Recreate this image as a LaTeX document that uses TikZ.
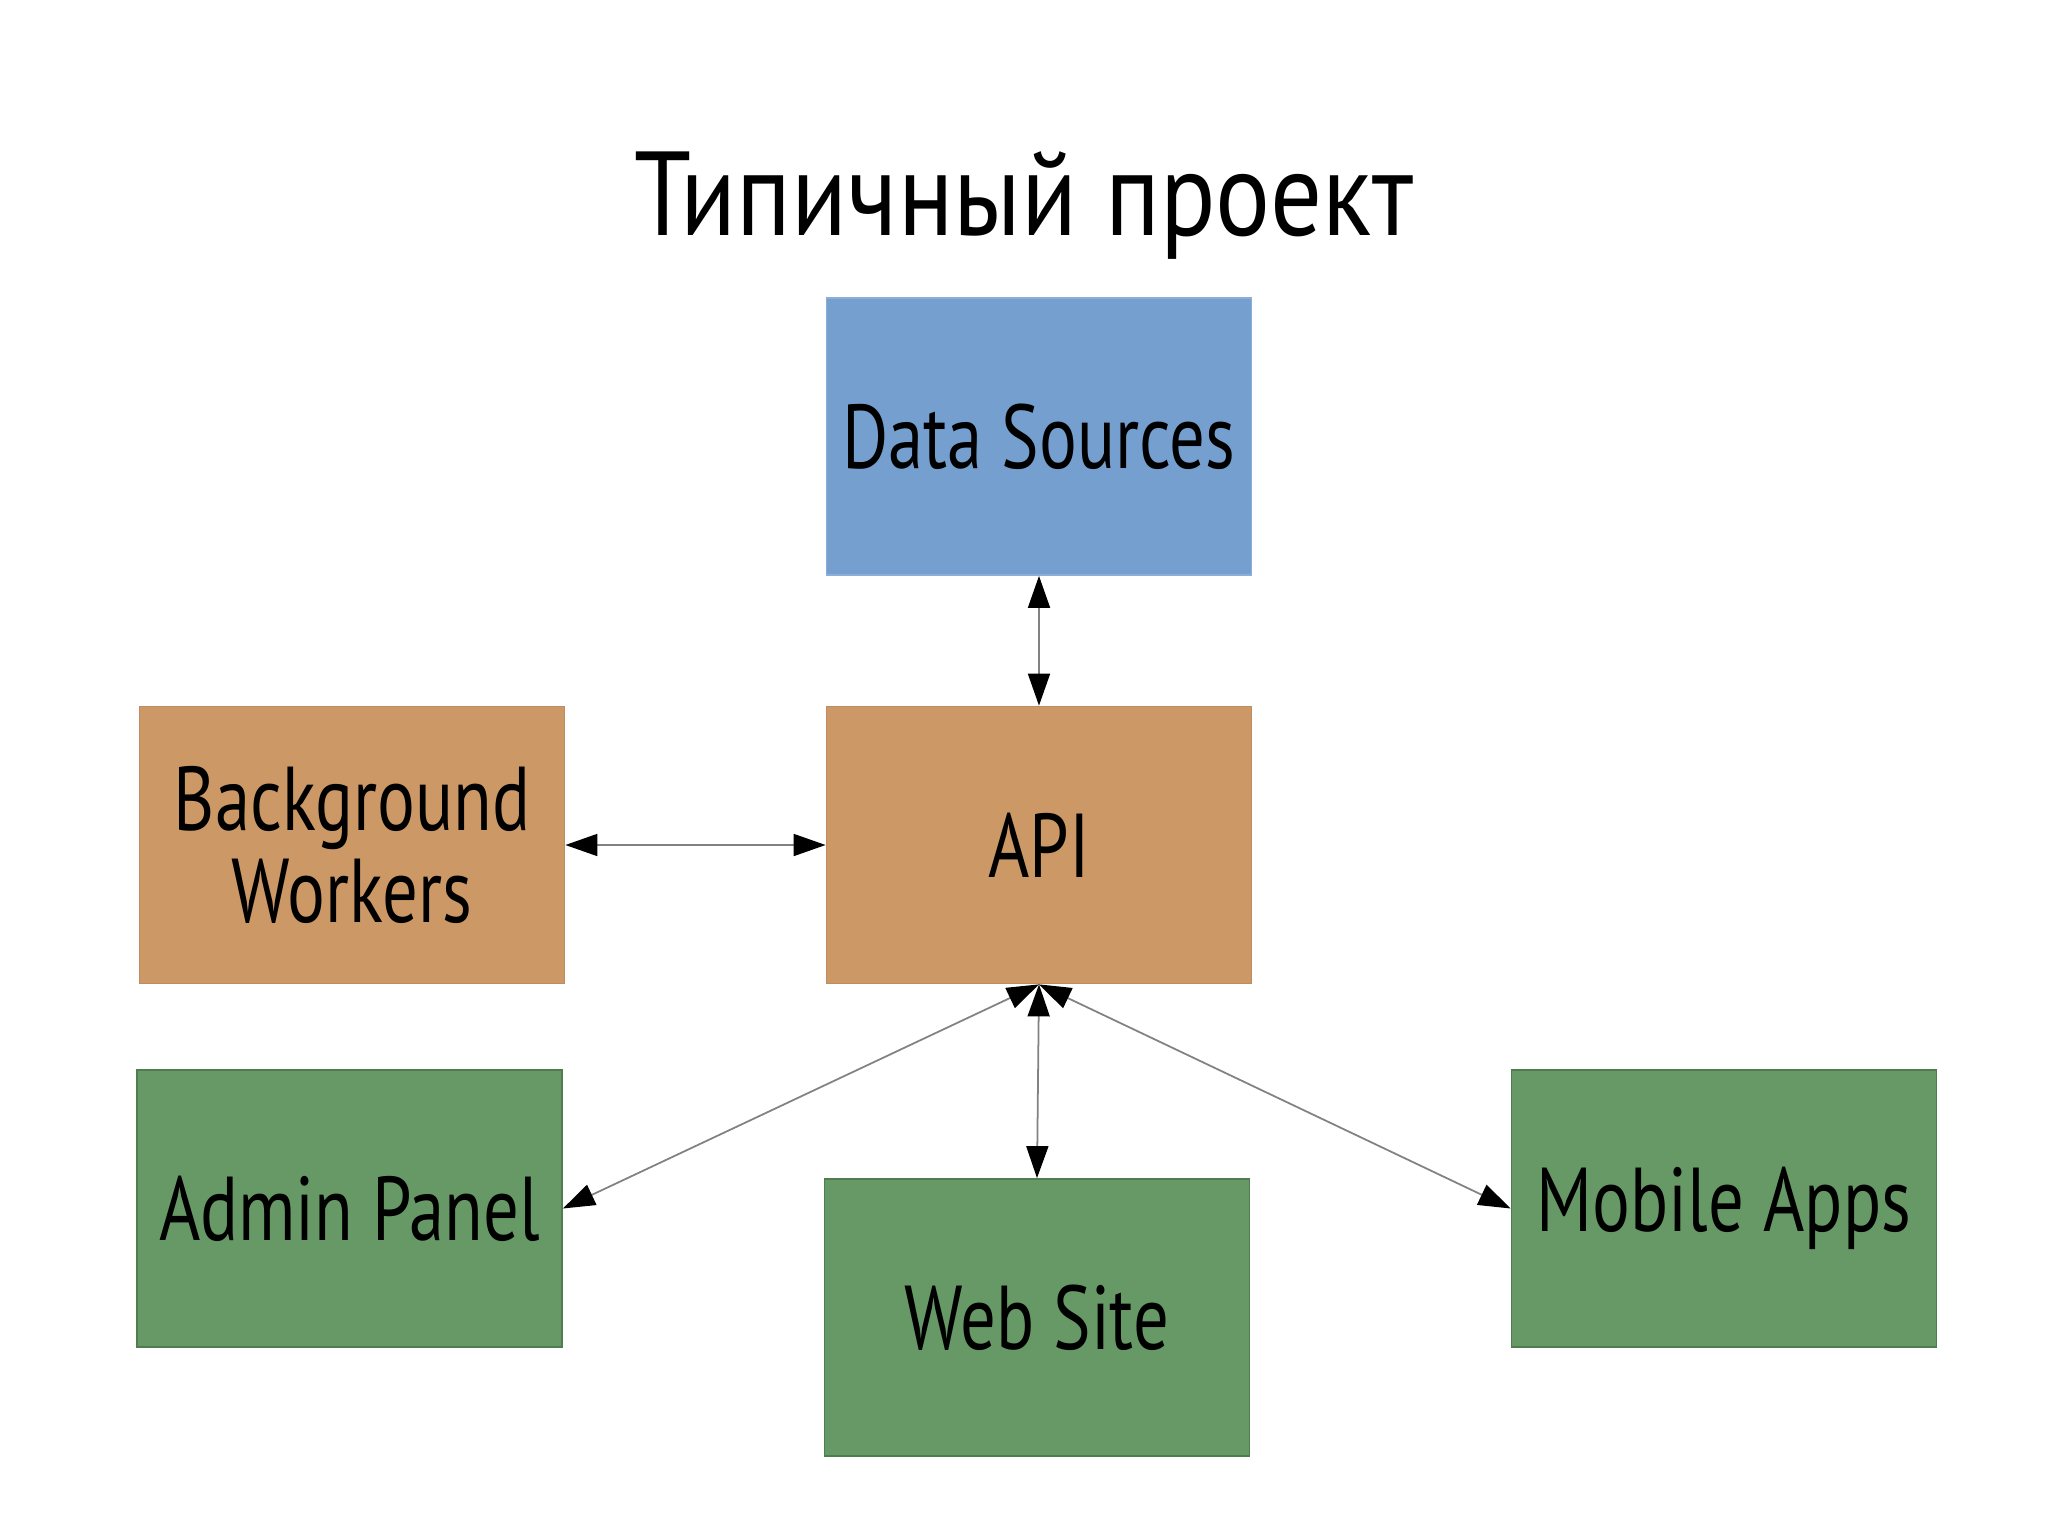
\documentclass[tikz,border=0pt]{standalone}
\usepackage{fontspec}
\setmainfont[FakeStretch=0.78]{PT Sans}
\newfontfamily\titlefont[FakeStretch=0.86]{PT Sans}
\usepackage{tikz}
\usetikzlibrary{arrows.meta, positioning}
\definecolor{myblue}{RGB}{116,159,207}
\definecolor{myorange}{RGB}{204,153,102}
\definecolor{mygreen}{RGB}{103,153,103}
\definecolor{edgeblue}{RGB}{140,175,215}
\definecolor{edgeorange}{RGB}{190,140,95}
\definecolor{edgegreen}{RGB}{80,125,80}
\definecolor{linegray}{RGB}{130,130,130}
\tikzset{
  block/.style={rectangle, minimum width=4.25cm, minimum height=2.77cm,
    align=center, font=\fontsize{25.8}{26}\selectfont, line width=0.5pt,
    inner sep=0pt},
  blueblock/.style={block, draw=edgeblue, fill=myblue},
  orangeblock/.style={block, draw=edgeorange, fill=myorange},
  greenblock/.style={block, draw=edgegreen, fill=mygreen},
  arrow/.style={{Triangle[length=0.32cm, width=0.22cm, color=black]}-{Triangle[length=0.32cm, width=0.22cm, color=black]},
    draw=linegray, line width=0.5pt}
}
\begin{document}
\begin{tikzpicture}
  \useasboundingbox[fill=white] (0,0) rectangle (20.48,-15.35);

  % Title
  \node[anchor=base, font=\titlefont\fontsize{34}{40}\selectfont] (title) at (10.24,-2.35) {Типичный проект};

  % Blocks
  \node[blueblock] (ds) at (10.39,-4.365) {Data Sources};
  \node[orangeblock] (api) at (10.39,-8.45) {API};
  \node[orangeblock] (bw) at (3.52,-8.45) {Background\\Workers};
  \node[greenblock] (admin) at (3.495,-12.085) {Admin Panel};
  \node[greenblock] (web) at (10.37,-13.175) {Web Site};
  \node[greenblock] (mobile) at (17.24,-12.085) {Mobile Apps};

  % Connections
  \draw[arrow] (ds.south) -- (api.north);
  \draw[arrow] (bw.east) -- (api.west);
  \draw[arrow] (api.south) -- (web.north);
  \draw[arrow] (api.south) -- (admin.east);
  \draw[arrow] (api.south) -- (mobile.west);
\end{tikzpicture}
\end{document}
